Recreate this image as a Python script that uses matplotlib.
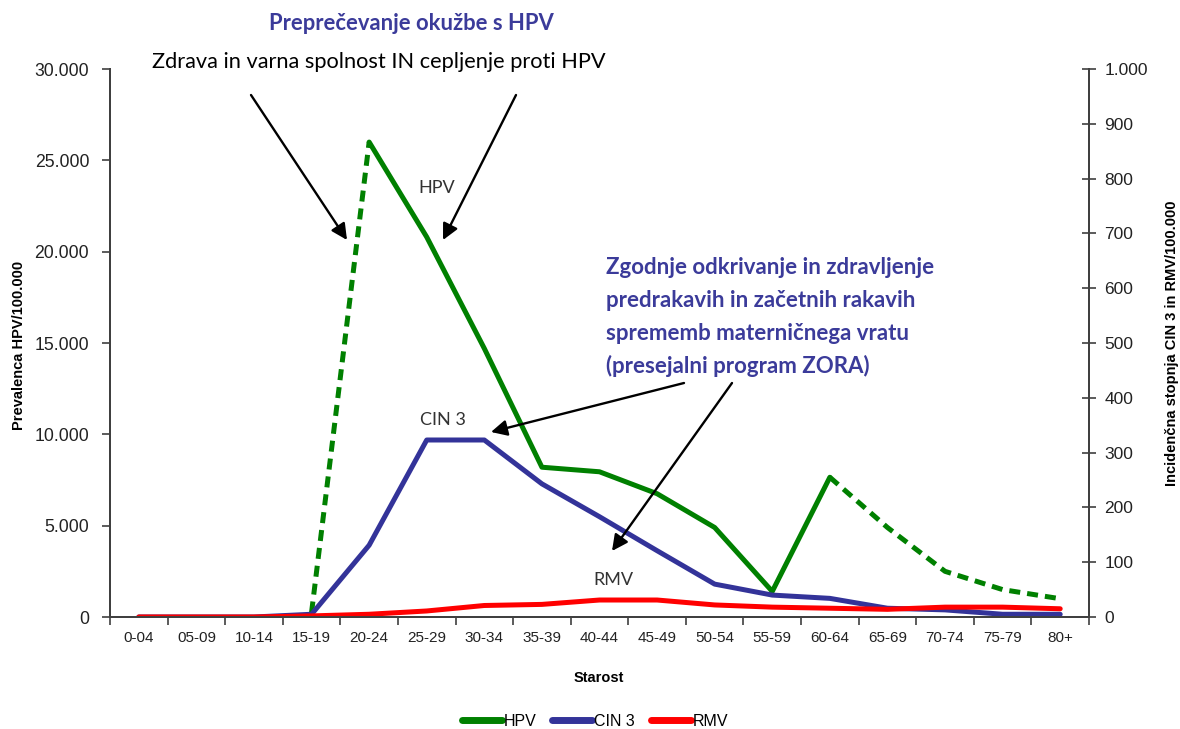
import numpy as np
import matplotlib
matplotlib.use("Agg")
import matplotlib.pyplot as plt
from matplotlib.ticker import FuncFormatter, MultipleLocator, FixedLocator
from matplotlib.lines import Line2D

plt.rcParams['font.family'] = ['Liberation Sans', 'DejaVu Sans']

# ---------------- data ----------------
age_groups = ["0-04", "05-09", "10-14", "15-19", "20-24", "25-29", "30-34", "35-39",
              "40-44", "45-49", "50-54", "55-59", "60-64", "65-69", "70-74", "75-79", "80+"]
hpv = [np.nan, np.nan, np.nan, 250, 26000, 20800, 14700, 8200, 7950, 6750, 4900,
       1400, 7650, 4900, 2500, 1500, 1000]          # prevalence / 100.000 (left axis)
cin3 = [0, 0, 0, 5, 131, 323, 323, 243, 183, 121, 60, 40, 34, 16, 13, 5, 5]   # right axis
rmv = [0, 0, 0, 2, 5, 11, 21, 23, 31, 31, 22, 18, 16, 14, 18, 18, 15]         # right axis
# segments of the HPV curve: (start index, end index, dashed?)
hpv_segments = [(3, 4, True), (4, 12, False), (12, 16, True)]

GREEN = "#008000"
BLUE = "#333399"
RED = "#ff0000"
TXTBLUE = "#3b3b9a"
SPINE = "#404040"

W, H = 1180, 729
fig = plt.figure(figsize=(W / 100, H / 100), dpi=100)
ax = fig.add_axes([110 / W, 112 / H, 979 / W, 548 / H])
ax2 = ax.twinx()

x = np.arange(len(age_groups))
hpv_arr = np.array(hpv, dtype=float)
for s, e, dashed in hpv_segments:
    ax.plot(x[s:e + 1], hpv_arr[s:e + 1], color=GREEN, lw=3.6,
            linestyle=(0, (2.2, 1.4)) if dashed else '-',
            solid_joinstyle='round', solid_capstyle='round', dash_capstyle='butt')
ax2.plot(x, cin3, color=BLUE, lw=3.6, solid_joinstyle='round', solid_capstyle='round')
ax2.plot(x, rmv, color=RED, lw=3.6, solid_joinstyle='round', solid_capstyle='round')

ax.set_xlim(-0.5, len(age_groups) - 0.5)
ax.set_ylim(0, 30000)
ax2.set_ylim(0, 1000)
ax.yaxis.set_major_locator(MultipleLocator(5000))
ax2.yaxis.set_major_locator(MultipleLocator(100))
fmt = FuncFormatter(lambda v, p: f"{int(round(v)):,}".replace(",", "."))
ax.yaxis.set_major_formatter(fmt)
ax2.yaxis.set_major_formatter(fmt)

ax.set_xticks(x)
ax.set_xticklabels(age_groups)
ax.xaxis.set_minor_locator(FixedLocator(np.arange(-0.5, len(age_groups), 1.0)))
ax.tick_params(axis='x', which='major', length=0, pad=10, labelsize=11, colors='#222222')
ax.tick_params(axis='x', which='minor', length=6, width=1.2, color=SPINE, direction='out')
ax.tick_params(axis='y', length=6, width=1.2, color=SPINE, direction='out',
               labelsize=12.7, labelcolor='#222222', pad=9)
ax2.tick_params(axis='y', length=10, width=1.2, color=SPINE, direction='inout',
                labelsize=12.5, labelcolor='#222222', pad=6)

for a in (ax, ax2):
    a.spines['top'].set_visible(False)
    for sp in ('left', 'right', 'bottom'):
        a.spines[sp].set_color(SPINE)
        a.spines[sp].set_linewidth(1.4)
ax.patch.set_visible(False)

fig.text(19 / W, 1 - 345 / H, "Prevalenca HPV/100.000", rotation=90, ha='center', va='center',
         fontsize=10.5, fontweight='bold', color='black')
fig.text(1172 / W, 1 - 343 / H, "Incidenčna stopnja CIN 3 in RMV/100.000", rotation=90,
         ha='center', va='center', fontsize=10.5, fontweight='bold', color='black')
fig.text(599 / W, 1 - 678 / H, "Starost", ha='center', va='center', fontsize=10.5,
         fontweight='bold', color='black')

# legend
handles = [Line2D([], [], color=GREEN, lw=5, solid_capstyle='round'),
           Line2D([], [], color=BLUE, lw=5, solid_capstyle='round'),
           Line2D([], [], color=RED, lw=5, solid_capstyle='round')]
fig.legend(handles, ["HPV", "CIN 3", "RMV"], loc='center', bbox_to_anchor=(595 / W, 1 - 721 / H),
           ncol=3, frameon=False, fontsize=11.5, handlelength=2.5, handletextpad=0.1,
           columnspacing=1.0)

# annotation texts
CAL = ['Lato', 'DejaVu Sans']
fig.text(411 / W, 1 - 24 / H, "Preprečevanje okužbe s HPV", ha='center', va='center',
         fontsize=15.8, fontweight='bold', color=TXTBLUE, family=CAL)
fig.text(379 / W, 1 - 62 / H, "Zdrava in varna spolnost IN cepljenje proti HPV", ha='center',
         va='center', fontsize=15.7, color='black', family=CAL)
fig.text(437 / W, 1 - 188 / H, "HPV", ha='center', va='center', fontsize=13,
         color='#333333', family=CAL)
fig.text(443 / W, 1 - 420 / H, "CIN 3", ha='center', va='center', fontsize=13,
         color='#333333', family=CAL)
fig.text(613 / W, 1 - 580 / H, "RMV", ha='center', va='center', fontsize=13,
         color='#333333', family=CAL)
blue_lines = ["Zgodnje odkrivanje in zdravljenje", "predrakavih in začetnih rakavih",
              "sprememb materničnega vratu", "(presejalni program ZORA)"]
for i, line in enumerate(blue_lines):
    fig.text(606 / W, 1 - (268 + 32.5 * i) / H, line, ha='left', va='center',
             fontsize=16, fontweight='bold', color=TXTBLUE, family=CAL)

def fp(px, py):
    return (px / W, 1 - py / H)

arrows = [((251, 95), (347, 240)), ((516, 95), (443, 240)),
          ((684, 383), (491, 432)), ((732, 383), (612, 551))]
for start, tip in arrows:
    ax2.annotate('', xy=fp(*tip), xytext=fp(*start), xycoords='figure fraction',
                 textcoords='figure fraction',
                 arrowprops=dict(arrowstyle='-|>', color='black', lw=1.7,
                                 mutation_scale=24, shrinkA=0, shrinkB=0))

fig.savefig("out.png", dpi=100)
